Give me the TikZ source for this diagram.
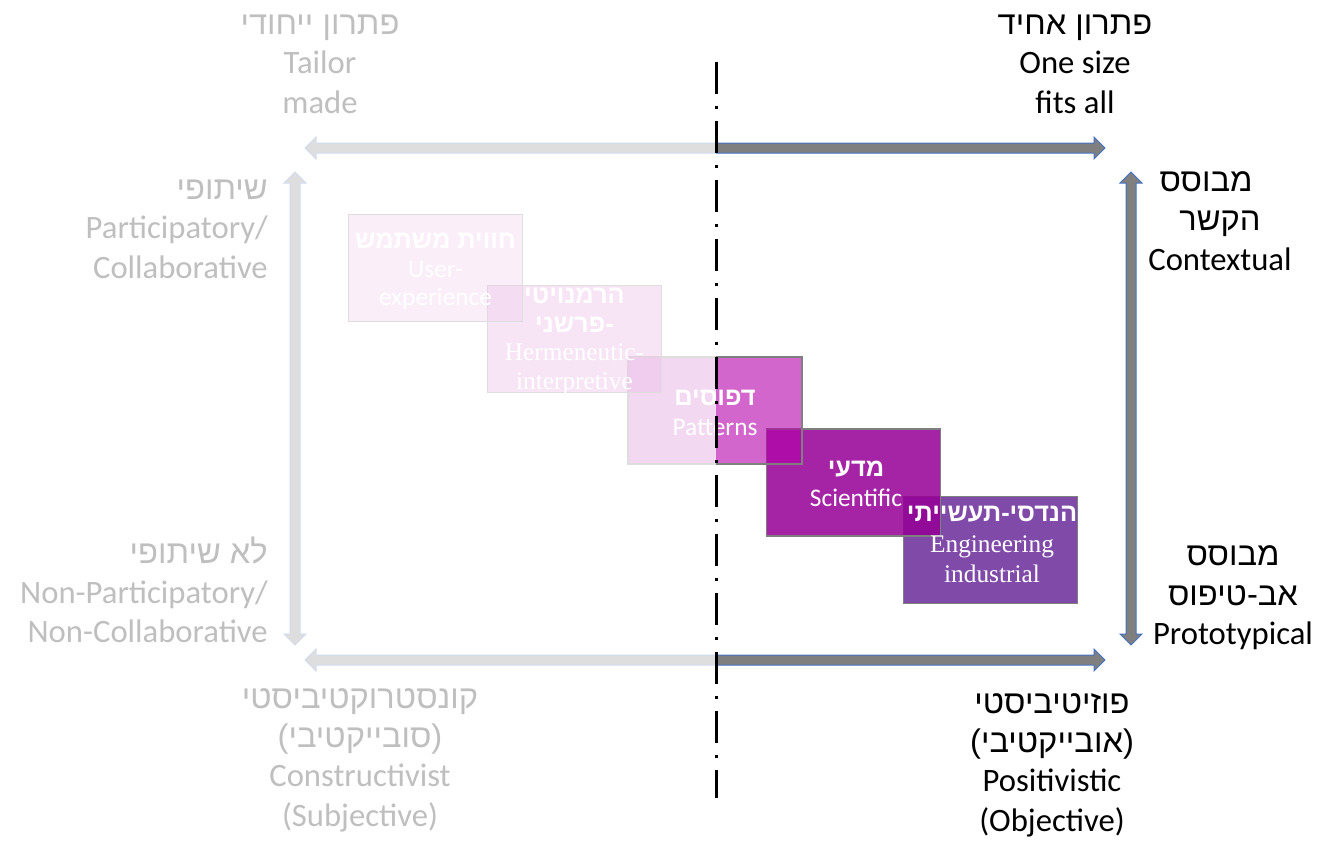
\documentclass[tikz,border=0pt]{standalone}
\usepackage{fontspec}
\setmainfont{Carlito}
\newfontfamily\hebfont[Script=Hebrew]{Liberation Sans}
\newfontfamily\timesfont{Liberation Serif}
\TeXXeTstate=1
\newcommand{\heb}[1]{{\hebfont\beginR#1\endR}}
\newcommand{\hebb}[1]{{\hebfont\bfseries\beginR#1\endR}}
\definecolor{axisgray}{RGB}{127,127,127}
\definecolor{axisblue}{RGB}{68,114,196}
\definecolor{boxgray}{RGB}{127,127,127}
\definecolor{orchid}{RGB}{180,0,170}
\definecolor{plum}{RGB}{150,0,150}
\definecolor{engpurple}{RGB}{127,74,168}

\begin{document}
\begin{tikzpicture}[x=0.75pt,y=0.75pt,yscale=-1,xscale=1,
  lbl/.style={inner sep=0pt, align=center, font=\fontsize{24.5}{29.5}\selectfont},
  boxtxt/.style={inner sep=0pt, align=center, text=white, font=\fontsize{19}{23}\selectfont},
  paradigm/.style={draw=boxgray, line width=1.1pt, minimum width=130.5pt, minimum height=80.25pt, inner sep=0pt},
  axis/.style={draw=axisblue, fill=axisgray, line width=0.75pt}]
\useasboundingbox (0,0) rectangle (1321,840);

%Left Right Arrow [top]
\draw [axis] (305,148) -- (316,137) -- (316,143) -- (1094,143) -- (1094,137) -- (1105,148) -- (1094,159) -- (1094,153) -- (316,153) -- (316,159) -- cycle ;
%Left Right Arrow [bottom]
\draw [axis] (305,660) -- (316,649) -- (316,655) -- (1094,655) -- (1094,649) -- (1105,660) -- (1094,671) -- (1094,665) -- (316,665) -- (316,671) -- cycle ;
%Up Down Arrow [left]
\draw [axis] (295,172) -- (306,183) -- (300,183) -- (300,634) -- (306,634) -- (295,645) -- (284,634) -- (290,634) -- (290,183) -- (284,183) -- cycle ;
%Up Down Arrow [right]
\draw [axis] (1131,172) -- (1142,183) -- (1136,183) -- (1136,634) -- (1142,634) -- (1131,645) -- (1120,634) -- (1126,634) -- (1126,183) -- (1120,183) -- cycle ;

%Shape: Rectangle [engineering]
\node [paradigm, fill=engpurple] (eng) at (990.5,550) {};
%Shape: Rectangle [scientific]
\node [paradigm, fill=plum, fill opacity=0.86] (sci) at (853.5,482.5) {};
%Shape: Rectangle [patterns]
\node [paradigm, fill=orchid, fill opacity=0.6] (pat) at (715,410.5) {};
%Shape: Rectangle [hermeneutic]
\node [paradigm, fill=orchid, fill opacity=0.4] (herm) at (574.5,339) {};
%Shape: Rectangle [user experience]
\node [paradigm, fill=orchid, fill opacity=0.25] (user) at (435.5,268) {};

% Text Node
\node [boxtxt] (engtxt) at ([shift={(1.5,-5.5)}]eng) {\hebb{הנדסי-תעשייתי}\\{\timesfont Engineering}\\{\timesfont industrial}};
% Text Node
\node [boxtxt] (scitxt) at ([shift={(2.5,1.5)}]sci) {\hebb{מדעי}\\Scientific};
% Text Node
\node [boxtxt] (pattxt) at ([shift={(0,2.5)}]pat) {\hebb{דפוסים}\\Patterns};
% Text Node
\node [boxtxt, font=\fontsize{19}{21.5}\selectfont] (hermtxt) at ([shift={(0,2.5)}]herm) {\hebb{הרמנויטי}\\\hebb{-פרשני}\\{\timesfont Hermeneutic-}\\{\timesfont interpretive}};
% Text Node
\node [boxtxt, font=\fontsize{19}{21.5}\selectfont] (usertxt) at ([shift={(0,3.5)}]user) {\hebb{חווית משתמש}\\User-\\experience};

% Text Node
\node [lbl] (tailor) at (320,64) {\heb{פתרון ייחודי}\\Tailor\\made};
% Text Node
\node [lbl] (onesize) at (1075,64) {\heb{פתרון אחיד}\\One size\\fits all};
% Text Node
\node [lbl, anchor=east, align=right] (particip) at (268,229) {\heb{שיתופי}\\Participatory/\\Collaborative};
% Text Node
\node [lbl, anchor=east, align=right] (nonparticip) at (268,590) {\heb{לא שיתופי}\\Non-Participatory/\\Non-Collaborative};
% Text Node
\node [lbl] (context) at (1220,221) {\heb{מבוסס}\hspace*{21pt}\\\heb{הקשר}\hspace*{40pt}\\Contextual};
% Text Node
\node [lbl] (prototyp) at (1233,598) {\heb{מבוסס}\\\heb{אב-טיפוס}\\Prototypical};
% Text Node
\node [lbl] (construct) at (360,760) {\heb{קונסטרוקטיביסטי}\\\heb{(סובייקטיבי)}\\Constructivist\\(Subjective)};
% Text Node
\node [lbl] (positiv) at (1052,765) {\heb{פוזיטיביסטי}\\\heb{(אובייקטיבי)}\\Positivistic\\(Objective)};

%Shape: Rectangle [fade of the left half]
\fill [white, fill opacity=0.75] (0,0) rectangle (716,840) ;

%Straight Lines [divider]
\coordinate (divtop) at (716,62) ;
\coordinate (divbot) at (716,798) ;
\draw [line width=2.25pt, dash pattern=on 24pt off 9pt on 2.25pt off 9pt] (divtop) -- (divbot) ;

\end{tikzpicture}
\end{document}
